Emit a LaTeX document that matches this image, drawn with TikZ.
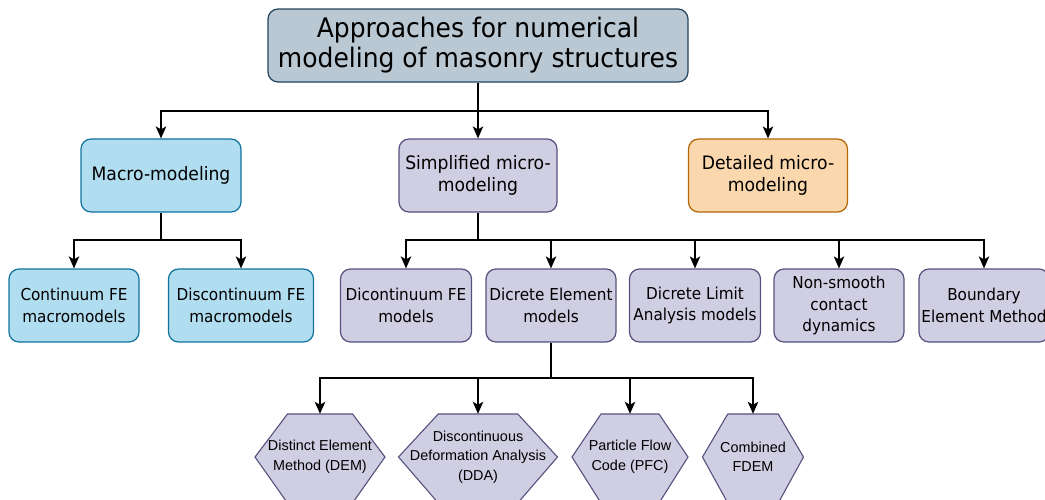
\documentclass[tikz,border=0pt]{standalone}
\usepackage{fontspec}
\usetikzlibrary{arrows.meta}
\newfontfamily\boxfont[FakeStretch=0.93]{DejaVu Sans}
\newfontfamily\hexfont{Liberation Sans}

\definecolor{slatefill}{HTML}{BAC8D3}
\definecolor{slateline}{HTML}{23445D}
\definecolor{bluefill}{HTML}{B1DDF0}
\definecolor{blueline}{HTML}{10739E}
\definecolor{purplefill}{HTML}{D0CEE2}
\definecolor{purpleline}{HTML}{56517E}
\definecolor{orangefill}{HTML}{FAD7AC}
\definecolor{orangeline}{HTML}{B46504}

\tikzset{
  roundbox/.style={rectangle, rounded corners=10pt, line width=1.2pt,
    inner sep=0pt, align=center, minimum height=73pt},
  titlebox/.style={roundbox, fill=slatefill, draw=slateline, minimum width=420pt,
    font=\boxfont\fontsize{26.9}{30}\selectfont},
  levelone/.style={roundbox, font=\boxfont\fontsize{18.5}{22.3}\selectfont},
  leveltwo/.style={roundbox, minimum width=130pt, font=\boxfont\fontsize{16.4}{21.5}\selectfont},
  macrostyle/.style={fill=bluefill, draw=blueline},
  microstyle/.style={fill=purplefill, draw=purpleline},
  detailstyle/.style={fill=orangefill, draw=orangeline},
  hexshape/.style={fill=purplefill, draw=purpleline, line width=1.1pt, line join=miter},
  hextext/.style={rectangle, inner sep=0pt, minimum height=86pt, align=center,
    font=\hexfont\fontsize{14.4}{19.5}\selectfont},
  link/.style={line width=1.4pt, draw=black},
  arr/.style={link, -{Stealth[length=12pt, width=10.5pt, inset=3pt]}},
}

% hexagon with an invisible named node on top: name, centre x, width, text
\newcommand\hexitem[4]{%
  \path[hexshape] (#2-#3/2,457) -- (#2-#3/4,414) -- (#2+#3/4,414)
    -- (#2+#3/2,457) -- (#2+#3/4,503) -- (#2-#3/4,503) -- cycle;
  \node[hextext, minimum width=#3pt] (#1) at (#2,457) {#4};
}

\begin{document}
\begin{tikzpicture}[x=1pt, y=-1pt]
\useasboundingbox (0,0) rectangle (1045,499);
\clip (0,0) rectangle (1045,499);

% root
\node[titlebox] (root) at (478,45.5) {Approaches for numerical\\modeling of masonry structures};

% first level
\node[levelone, macrostyle, minimum width=160pt] (macro) at (161,175.5) {Macro-modeling};
\node[levelone, microstyle, minimum width=158pt] (simp) at (478,175.5) {Simplified micro-\\modeling};
\node[levelone, detailstyle, minimum width=159pt] (det) at (768,175.5) {Detailed micro-\\modeling};

% second level
\node[leveltwo, macrostyle] (cont) at (74,305.5) {Continuum FE\\macromodels};
\node[leveltwo, macrostyle, minimum width=145pt] (disc) at (241,305.5) {Discontinuum FE\\macromodels};
\node[leveltwo, microstyle, minimum width=131pt] (dicfe) at (406,305.5) {Dicontinuum FE\\models};
\node[leveltwo, microstyle] (delem) at (551,305.5) {Dicrete Element\\models};
\node[leveltwo, microstyle, minimum width=131pt] (dlim) at (695,305.5) {Dicrete Limit\\Analysis models};
\node[leveltwo, microstyle] (nsmooth) at (839,305.5) {Non-smooth\\contact\\dynamics};
\node[leveltwo, microstyle] (bem) at (984,305.5) {Boundary\\Element Method};

% third level
\hexitem{dem}{320}{130}{Distinct Element\\Method (DEM)}
\hexitem{dda}{478}{159}{Discontinuous\\Deformation Analysis\\(DDA)}
\hexitem{pfc}{630}{116}{Particle Flow\\Code (PFC)}
\hexitem{fdem}{753}{101}{Combined\\FDEM}

% junction points
\coordinate (j0) at (478,111);
\coordinate (j1) at (161,240);
\coordinate (j2) at (478,240);
\coordinate (j3) at (551,378);

% root to first level
\draw[link] (root.south) -- (j0);
\draw[arr] (j0) -| (macro.north);
\draw[arr] (j0) -- (simp.north);
\draw[arr] (j0) -| (det.north);

% macro-modeling branch
\draw[link] (macro.south) -- (j1);
\draw[arr] (j1) -| (cont.north);
\draw[arr] (j1) -| (disc.north);

% simplified micro-modeling branch
\draw[link] (simp.south) -- (j2);
\draw[arr] (j2) -| (dicfe.north);
\draw[arr] (j2) -| (delem.north);
\draw[arr] (j2) -| (dlim.north);
\draw[arr] (j2) -| (nsmooth.north);
\draw[arr] (j2) -| (bem.north);

% discrete element branch
\draw[link] (delem.south) -- (j3);
\draw[arr] (j3) -| (dem.north);
\draw[arr] (j3) -| (dda.north);
\draw[arr] (j3) -| (pfc.north);
\draw[arr] (j3) -| (fdem.north);
\end{tikzpicture}
\end{document}
